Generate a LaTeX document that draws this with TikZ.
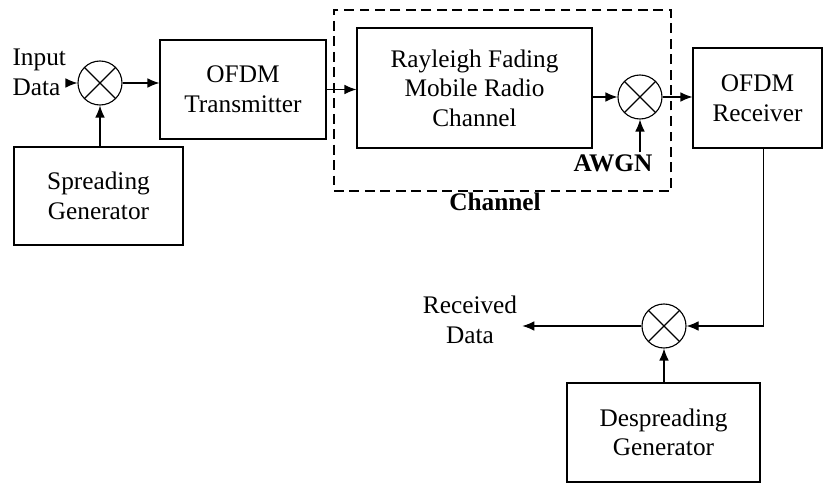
\documentclass[tikz,border=0pt]{standalone}
\usepackage{fontspec}
\setmainfont{Liberation Serif}
\usetikzlibrary{arrows.meta}

\begin{document}
\begin{tikzpicture}[
    >={Latex[length=3mm,width=2.4mm]},
    line width=0.8pt,
    every node/.style={font=\fontsize{18}{21}\selectfont},
    bloc/.style={draw, align=center, inner sep=0pt},
    negreta/.style={font=\fontsize{18}{21}\selectfont\bfseries, inner sep=1pt},
    mult/.style={
        draw, circle, minimum size=1.1cm, inner sep=0pt,
        path picture={
            \draw (path picture bounding box.north west) -- (path picture bounding box.south east)
                  (path picture bounding box.north east) -- (path picture bounding box.south west);
        }
    }
]

\useasboundingbox (0,0) rectangle (20.575,12.15);

% Emissor

\node[mult] (m1) at (2.5,10.075) {};

\node[
    anchor=west,
    align=left,
    inner sep=0pt
] (in) at (0.3,10.34) {Input\\Data};

\node[
    bloc,
    minimum width=4.225cm,
    minimum height=2.45cm
] (sg) at (2.4625,7.25) {Spreading\\Generator};

\node[
    bloc,
    minimum width=4.15cm,
    minimum height=2.475cm
] (tx) at (6.075,9.9125) {OFDM\\Transmitter};


% Canal

\node[
    draw,
    dash pattern=on 7pt off 4pt,
    minimum width=8.425cm,
    minimum height=4.525cm
] (ch) at (12.5625,9.6375) {};

\node[negreta] (chl) at (12.375,7.1) {Channel};

\node[
    bloc,
    minimum width=5.875cm,
    minimum height=3cm
] (ray) at (11.8625,9.95) {Rayleigh Fading\\Mobile Radio\\Channel};

\node[mult] (m2) at (16,9.725) {};

\node[negreta] (awgn) at (15.325,8.075) {AWGN};


% Receptor

\node[
    bloc,
    minimum width=3.225cm,
    minimum height=2.5cm
] (rx) at (18.9375,9.7) {OFDM\\Receiver};

\node[mult] (m3) at (16.6,4.0) {};

\node[align=center] (out) at (11.75,4.15) {Received\\Data};

\node[
    bloc,
    minimum width=4.825cm,
    minimum height=2.475cm
] (ds) at (16.5875,1.3375) {Despreading\\Generator};


% Connexions

\draw[->] (in.east |- m1) -- (m1);
\draw[->] (sg.north -| m1) -- (m1);
\draw[->] (m1) -- (tx.west |- m1);
\draw[->] (tx) -- (ray.west |- tx);
\draw[->] (ray.east |- m2) -- (m2);
\draw[->] (m2) -- (rx.west |- m2);
\draw[->] (awgn.north -| m2) -- (m2);
\draw[->] ([xshift=0.14cm]rx.south) |- (m3);
\draw[->] (m3) -- (out.east |- m3);
\draw[->] (ds.north -| m3) -- (m3);

\end{tikzpicture}
\end{document}
